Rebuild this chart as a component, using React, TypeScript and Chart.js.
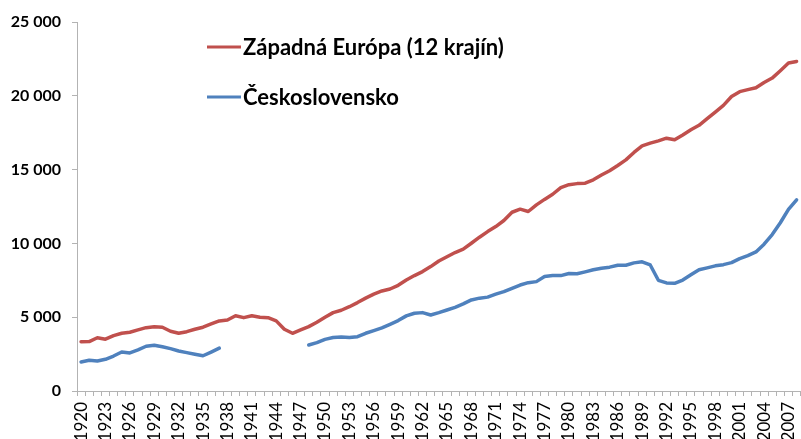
import React, { useEffect, useRef } from "react";
import { Chart, registerables } from "chart.js";

Chart.register(...registerables);

const years: string[] = [
  "1920", "1921", "1922", "1923", "1924", "1925", "1926", "1927", "1928", "1929",
  "1930", "1931", "1932", "1933", "1934", "1935", "1936", "1937", "1938", "1939",
  "1940", "1941", "1942", "1943", "1944", "1945", "1946", "1947", "1948", "1949",
  "1950", "1951", "1952", "1953", "1954", "1955", "1956", "1957", "1958", "1959",
  "1960", "1961", "1962", "1963", "1964", "1965", "1966", "1967", "1968", "1969",
  "1970", "1971", "1972", "1973", "1974", "1975", "1976", "1977", "1978", "1979",
  "1980", "1981", "1982", "1983", "1984", "1985", "1986", "1987", "1988", "1989",
  "1990", "1991", "1992", "1993", "1994", "1995", "1996", "1997", "1998", "1999",
  "2000", "2001", "2002", "2003", "2004", "2005", "2006", "2007", "2008",
];

const westernEurope: number[] = [
  3340, 3350, 3610, 3510, 3750, 3910, 3980, 4140, 4290, 4360,
  4320, 4050, 3910, 4020, 4180, 4320, 4540, 4750, 4810, 5100,
  4970, 5100, 5000, 4970, 4750, 4180, 3910, 4140, 4360, 4660,
  5000, 5310, 5470, 5710, 5990, 6290, 6560, 6780, 6910, 7160,
  7520, 7820, 8090, 8430, 8810, 9100, 9380, 9610, 10010, 10420,
  10800, 11140, 11550, 12110, 12320, 12160, 12610, 12980, 13330, 13780,
  13980, 14050, 14080, 14310, 14630, 14920, 15280, 15660, 16160, 16610,
  16790, 16950, 17130, 17020, 17350, 17700, 18000, 18450, 18900, 19350,
  19950, 20280, 20420, 20550, 20900, 21200, 21700, 22220, 22330,
];

const czechoslovakia: (number | null)[] = [
  1966, 2080, 2030, 2150, 2370, 2640, 2580, 2780, 3030, 3100,
  3000, 2870, 2710, 2600, 2490, 2390, 2640, 2900, null, null,
  null, null, null, null, null, null, null, null, 3120, 3280,
  3500, 3620, 3660, 3620, 3680, 3910, 4090, 4280, 4520, 4770,
  5090, 5270, 5310, 5150, 5310, 5490, 5670, 5900, 6170, 6290,
  6360, 6560, 6730, 6960, 7180, 7340, 7410, 7750, 7820, 7820,
  7960, 7940, 8070, 8210, 8320, 8390, 8520, 8520, 8680, 8750,
  8540, 7500, 7320, 7300, 7520, 7870, 8210, 8340, 8480, 8560,
  8700, 8970, 9170, 9420, 9950, 10600, 11400, 12300, 12950,
];

const seriesNames = ["Západná Európa (12 krajín)", "Československo"];
const seriesColors = ["#C0504D", "#4F81BD"];
const yTicks = [0, 5000, 10000, 15000, 20000, 25000];

const FONT = "Lato, 'Open Sans', sans-serif";
const AXIS_GRAY = "#b3b3b3";

const formatThousands = (v: number) =>
  String(v).replace(/\B(?=(\d{3})+(?!\d))/g, " ");

const legendPlugin = {
  id: "insideLegend",
  afterDraw(chart: any) {
    const ctx = chart.ctx as CanvasRenderingContext2D;
    const rows = [47, 97];
    ctx.save();
    seriesNames.forEach((name, i) => {
      const y = rows[i];
      ctx.strokeStyle = seriesColors[i];
      ctx.lineWidth = 3;
      ctx.beginPath();
      ctx.moveTo(207, y);
      ctx.lineTo(241, y);
      ctx.stroke();
      ctx.fillStyle = "#000";
      ctx.font = `bold 22px ${FONT}`;
      ctx.textBaseline = "middle";
      ctx.textAlign = "left";
      ctx.fillText(name, 243, y + 1);
    });
    ctx.restore();
  },
};

export default function App() {
  const ref = useRef<HTMLCanvasElement | null>(null);

  useEffect(() => {
    if (!ref.current) return;
    const chart = new Chart(ref.current, {
      type: "line",
      data: {
        labels: years,
        datasets: [
          {
            label: seriesNames[0],
            data: westernEurope,
            borderColor: seriesColors[0],
            backgroundColor: seriesColors[0],
            borderWidth: 3.5,
            pointRadius: 0,
            tension: 0,
            borderJoinStyle: "round",
            borderCapStyle: "round",
          },
          {
            label: seriesNames[1],
            data: czechoslovakia,
            borderColor: seriesColors[1],
            backgroundColor: seriesColors[1],
            borderWidth: 3.5,
            pointRadius: 0,
            tension: 0,
            spanGaps: false,
            borderJoinStyle: "round",
            borderCapStyle: "round",
          },
        ],
      },
      options: {
        responsive: false,
        animation: false,
        layout: { padding: { top: 22, left: 0, right: 0, bottom: 0 } },
        plugins: {
          legend: { display: false },
          tooltip: { enabled: false },
        },
        scales: {
          x: {
            type: "category",
            offset: true,
            grid: {
              offset: true,
              drawOnChartArea: false,
              drawTicks: true,
              tickLength: 5,
              color: AXIS_GRAY,
            },
            border: { display: true, color: AXIS_GRAY, width: 1 },
            ticks: {
              autoSkip: false,
              maxRotation: 90,
              minRotation: 90,
              padding: 6,
              color: "#000",
              font: { family: FONT, size: 17 },
              callback: (_v: any, i: number) =>
                (parseInt(years[i], 10) - 1920) % 3 === 0 ? years[i] : "",
            },
            afterFit: (s: any) => {
              s.height = 48;
            },
          },
          y: {
            min: yTicks[0],
            max: yTicks[yTicks.length - 1],
            afterBuildTicks: (s: any) => {
              s.ticks = yTicks.map((v) => ({ value: v }));
            },
            grid: {
              drawOnChartArea: false,
              drawTicks: true,
              tickLength: 5,
              color: AXIS_GRAY,
            },
            border: { display: true, color: AXIS_GRAY, width: 1 },
            ticks: {
              padding: 11,
              color: "#000",
              font: { family: FONT, size: 16, weight: "bold" },
              callback: (v: any) => formatThousands(Number(v)),
            },
            afterFit: (s: any) => {
              s.width = 77;
            },
          },
        },
      },
      plugins: [legendPlugin],
    });
    return () => chart.destroy();
  }, []);

  return (
    <div
      style={{
        position: "absolute",
        left: 0,
        top: 0,
        width: 801,
        height: 439,
        overflow: "hidden",
        background: "#fff",
      }}
    >
      <canvas ref={ref} width={823} height={439} style={{ width: 823, height: 439 }} />
    </div>
  );
}
